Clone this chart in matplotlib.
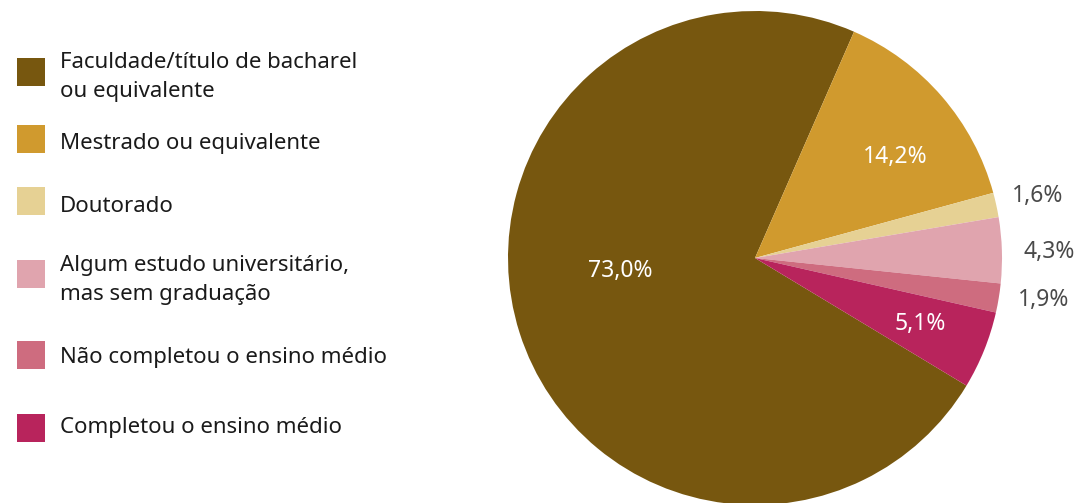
import numpy as np
import matplotlib
matplotlib.use("Agg")
import matplotlib.pyplot as plt
from matplotlib.patches import Rectangle

categories = [
    "Faculdade/título de bacharel\nou equivalente",
    "Mestrado ou equivalente",
    "Doutorado",
    "Algum estudo universitário,\nmas sem graduação",
    "Não completou o ensino médio",
    "Completou o ensino médio",
]
values = [73.0, 14.2, 1.6, 4.3, 1.9, 5.1]
pct_labels = ["73,0%", "14,2%", "1,6%", "4,3%", "1,9%", "5,1%"]
colors = ["#77570F", "#D09A2E", "#E6D194", "#E0A4AE", "#CE6C7F", "#B8245C"]

plt.rcParams['font.family'] = ['Noto Sans', 'DejaVu Sans']

W, H = 1081, 503
fig = plt.figure(figsize=(W / 100, H / 100), dpi=100)

# pie axes: center (755,258) px, radius 247 px
cx, cy, R = 755, 258, 247
ax = fig.add_axes([(cx - R) / W, (H - cy - R) / H, 2 * R / W, 2 * R / H])
ax.axis('off')

start = 66.1 + values[0] * 3.6
wedges, _ = ax.pie(values, colors=colors, startangle=start, counterclock=False,
                   radius=1, wedgeprops=dict(linewidth=0))
ax.set_xlim(-1, 1)
ax.set_ylim(-1, 1)

inside = [True, True, False, False, False, True]
label_r = [0.55, 0.70, 1.17, 1.19, 1.18, 0.72]
angle_shift = [None, -5.0, 0.0, -0.6, 1.0, 0.0]
for i, w in enumerate(wedges):
    if angle_shift[i] is None:
        mid = np.deg2rad(185.5)
    else:
        mid = np.deg2rad((w.theta1 + w.theta2) / 2 + angle_shift[i])
    r = label_r[i]
    col = "white" if inside[i] else "#4a4a4a"
    ax.text(r * np.cos(mid), r * np.sin(mid), pct_labels[i], ha='center', va='center',
            fontsize=16.5, color=col, clip_on=False)

# legend drawn manually in pixel coordinates
sq_tops = [58, 125, 187, 260, 341, 414]
text_centers = [77, 143, 206, 280, 358, 427]
for cat, col, st, tc in zip(categories, colors, sq_tops, text_centers):
    fig.patches.append(Rectangle((17 / W, (H - st - 28) / H), 28 / W, 28 / H,
                                 transform=fig.transFigure, facecolor=col, edgecolor='none'))
    fig.text(60 / W, (H - tc) / H, cat, ha='left', va='center',
             fontsize=16, color="#1a1a1a", linespacing=1.55)

fig.savefig("out.png", dpi=100)
